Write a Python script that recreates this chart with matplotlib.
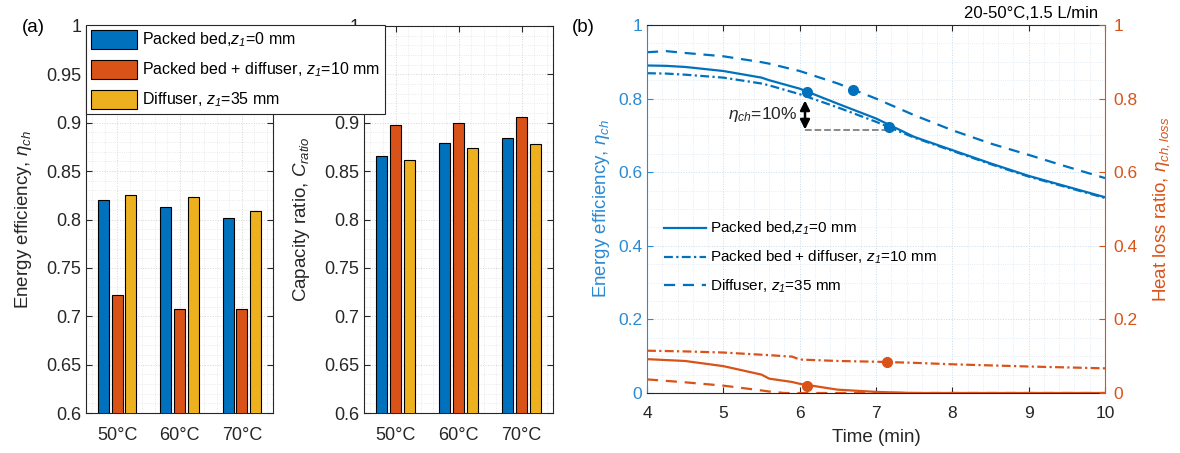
import matplotlib
matplotlib.use("Agg")
import matplotlib.pyplot as plt
from matplotlib.patches import Patch
from matplotlib.ticker import MultipleLocator

# --- dados ---
temps = ['50°C', '60°C', '70°C']
eff_packed = [0.820, 0.813, 0.802]
eff_combo = [0.722, 0.708, 0.707]
eff_diff = [0.825, 0.823, 0.809]
cap_packed = [0.866, 0.879, 0.884]
cap_combo = [0.898, 0.900, 0.906]
cap_diff = [0.861, 0.874, 0.878]

t = [4.0, 4.25, 4.5, 5.0, 5.5, 5.6, 6.0, 6.5, 7.0, 7.5, 8.0, 8.5, 9.0, 9.5, 10.0]
eta_packed = [0.890, 0.889, 0.886, 0.875, 0.857, 0.850, 0.827, 0.786, 0.746, 0.696, 0.660, 0.624, 0.590, 0.561, 0.532]
eta_combo = [0.869, 0.868, 0.865, 0.857, 0.841, 0.836, 0.812, 0.776, 0.737, 0.694, 0.658, 0.622, 0.588, 0.559, 0.530]
eta_diff = [0.926, 0.929, 0.924, 0.915, 0.899, 0.895, 0.875, 0.841, 0.800, 0.755, 0.714, 0.678, 0.647, 0.615, 0.584]

t_loss = [4.0, 4.5, 5.0, 5.5, 5.6, 5.8, 5.9, 6.0, 6.5, 7.0, 7.5, 8.0, 9.0, 10.0]
loss_packed = [0.092, 0.087, 0.073, 0.050, 0.039, 0.033, 0.030, 0.025, 0.009, 0.003, 0.0, 0.0, 0.0, 0.0]
loss_combo = [0.115, 0.113, 0.110, 0.104, 0.103, 0.100, 0.099, 0.091, 0.087, 0.085, 0.082, 0.078, 0.072, 0.067]
loss_diff = [0.037, 0.029, 0.020, 0.007, 0.004, 0.0, 0.0, 0.0, 0.0, 0.0, 0.0, 0.0, 0.0, 0.0]

mark_eta_t = [6.1, 6.7, 7.17]
mark_eta_v = [0.818, 0.824, 0.722]
mark_loss_t = [6.1, 7.15]
mark_loss_v = [0.018, 0.084]

arrow_t = 6.07
arrow_top, arrow_bot = 0.795, 0.716
ref_t_end = 7.17

labels = [r'Packed bed,$z_{1}$=0 mm',
          r'Packed bed + diffuser, $z_{1}$=10 mm',
          r'Diffuser, $z_{1}$=35 mm']

BLUE = '#0072BD'
ORANGE = '#D95319'
YELLOW = '#EDB120'
AXBLUE = '#2a8ad4'
GRAY = '#262626'

plt.rcParams['font.family'] = ['Liberation Sans', 'DejaVu Sans']
# tudo que está em modo matemático é itálico (inclusive o índice 1)
plt.rcParams['mathtext.fontset'] = 'custom'
plt.rcParams['mathtext.rm'] = 'Liberation Sans:italic'
plt.rcParams['mathtext.it'] = 'Liberation Sans:italic'
plt.rcParams['mathtext.bf'] = 'Liberation Sans:bold'

W, H = 1180, 453
fig = plt.figure(figsize=(W / 100, H / 100), dpi=100)
ax1 = fig.add_axes([86 / W, 40 / H, 187 / W, 387 / H])
ax2 = fig.add_axes([364 / W, 40 / H, 189 / W, 387 / H])
ax3 = fig.add_axes([647 / W, 60 / H, 458 / W, 368 / H])
ax4 = ax3.twinx()


def style_axis(ax, color=GRAY):
    for s in ax.spines.values():
        s.set_color(color)
        s.set_linewidth(0.8)
    ax.tick_params(which='both', direction='in', top=True, right=True, color=color, labelcolor=color)
    ax.tick_params(which='major', length=4)
    ax.tick_params(which='minor', length=0)
    ax.tick_params(axis='x', pad=10)


# --- (a) barras ---
x = [1, 2, 3]
w = 0.175
off = 0.218
for ax, vals, ylab in [(ax1, (eff_packed, eff_combo, eff_diff), r'Energy efficiency, $\eta_{ch}$'),
                       (ax2, (cap_packed, cap_combo, cap_diff), r'Capacity ratio, $C_{ratio}$')]:
    for k, (v, c) in enumerate(zip(vals, [BLUE, ORANGE, YELLOW])):
        ax.bar([xi + (k - 1) * off for xi in x], v, width=w, color=c,
               edgecolor='black', linewidth=0.8, zorder=3)
    ax.set_xlim(0.5, 3.5)
    ax.set_ylim(0.6, 1.0)
    ax.set_xticks(x)
    ax.set_xticklabels(temps)
    ax.set_yticks([0.6, 0.65, 0.7, 0.75, 0.8, 0.85, 0.9, 0.95, 1.0])
    ax.set_yticklabels(['0.6', '0.65', '0.7', '0.75', '0.8', '0.85', '0.9', '0.95', '1'])
    ax.yaxis.set_minor_locator(MultipleLocator(0.01))
    ax.xaxis.set_minor_locator(MultipleLocator(0.2))
    ax.grid(True, which='major', color='#d4d4d4', linestyle=':', linewidth=0.7, zorder=0)
    ax.grid(True, which='minor', color='#e4e4e4', linestyle=':', linewidth=0.6, zorder=0)
    ax.set_axisbelow(True)
    style_axis(ax)
    ax.tick_params(labelsize=13)
    ax.set_ylabel(ylab, fontsize=13.5, color=GRAY, labelpad=9)

handles = [Patch(facecolor=c, edgecolor='black', linewidth=0.8) for c in [BLUE, ORANGE, YELLOW]]
leg = fig.legend(handles, labels, loc='upper left', bbox_to_anchor=(86 / W, 428 / H),
                 fontsize=11.5, frameon=True, fancybox=False, framealpha=1,
                 edgecolor=GRAY, borderpad=0.3, borderaxespad=0, labelspacing=0.66,
                 handlelength=2.9, handleheight=1.45, handletextpad=0.3)
leg.get_frame().set_linewidth(0.8)

# --- (b) curvas ---
dashdot = (0, (4, 1.5, 1, 1.5))
dashed = (0, (5, 3.5))
ax3.plot(t, eta_packed, '-', color=BLUE, lw=1.6, label=labels[0])
ax3.plot(t, eta_combo, color=BLUE, lw=1.6, linestyle=dashdot, label=labels[1])
ax3.plot(t, eta_diff, color=BLUE, lw=1.6, linestyle=dashed, label=labels[2])
ax3.plot(mark_eta_t, mark_eta_v, 'o', color=BLUE, ms=7, zorder=4)

ax4.plot(t_loss, loss_packed, '-', color=ORANGE, lw=1.6)
ax4.plot(t_loss, loss_combo, color=ORANGE, lw=1.6, linestyle=dashdot)
ax4.plot(t_loss, loss_diff, color=ORANGE, lw=1.6, linestyle=dashed)
ax4.plot(mark_loss_t, mark_loss_v, 'o', color=ORANGE, ms=7, zorder=4)

ax3.plot([arrow_t, ref_t_end], [arrow_bot, arrow_bot], '--', color='#808080', lw=1.3)
ax3.annotate('', xy=(arrow_t, arrow_bot), xytext=(arrow_t, arrow_top),
             arrowprops=dict(arrowstyle='<|-|>', color='black', lw=1.8, mutation_scale=14,
                             shrinkA=0, shrinkB=0))
ax3.text(arrow_t - 0.1, (arrow_top + arrow_bot) / 2, r'$\eta_{ch}$=10%', ha='right', va='center',
         fontsize=12.5, color=GRAY)

for ax in (ax3, ax4):
    ax.set_xlim(4, 10)
    ax.set_ylim(0, 1)
    ax.set_yticks([0, 0.2, 0.4, 0.6, 0.8, 1.0])
    ax.set_yticklabels(['0', '0.2', '0.4', '0.6', '0.8', '1'])
    ax.yaxis.set_minor_locator(MultipleLocator(0.05))
ax3.set_xticks([4, 5, 6, 7, 8, 9, 10])
ax3.xaxis.set_minor_locator(MultipleLocator(0.2))
ax3.grid(True, which='major', color='#c8dbea', linestyle=':', linewidth=0.7)
ax3.grid(True, which='minor', color='#dbe7f1', linestyle=':', linewidth=0.6)

for s in ax3.spines.values():
    s.set_color(GRAY)
    s.set_linewidth(0.8)
ax3.spines['left'].set_color(AXBLUE)
ax3.spines['right'].set_visible(False)
ax3.tick_params(which='both', direction='in', top=True, length=4, labelsize=12.5, color=GRAY, labelcolor=GRAY)
ax3.tick_params(which='minor', length=0)
ax3.tick_params(axis='x', pad=9)
ax3.tick_params(axis='y', which='both', colors=AXBLUE, right=False)
ax4.spines['left'].set_visible(False)
ax4.spines['top'].set_visible(False)
ax4.spines['bottom'].set_visible(False)
ax4.spines['right'].set_color(ORANGE)
ax4.spines['right'].set_linewidth(0.8)
ax4.tick_params(axis='y', which='both', direction='in', colors=ORANGE, labelsize=12.5, length=4, pad=6)
ax4.tick_params(which='minor', length=0)

ax3.set_xlabel('Time (min)', fontsize=13.5, color=GRAY, labelpad=6)
ax3.set_ylabel(r'Energy efficiency, $\eta_{ch}$', fontsize=13.5, color=AXBLUE)
ax4.set_ylabel(r'Heat loss ratio, $\eta_{ch,loss}$', fontsize=13.5, color=ORANGE, labelpad=10)

ax3.legend(loc='upper left', bbox_to_anchor=(0.038, 0.47), frameon=False, fontsize=11,
           handlelength=2.75, handletextpad=0.25, labelspacing=0.75, borderpad=0, borderaxespad=0)

ax3.text(0.985, 1.012, '20-50°C,1.5 L/min', transform=ax3.transAxes, ha='right', va='bottom',
         fontsize=12, color='black')
fig.text(33 / W, 1 - 28 / H, '(a)', fontsize=13.5, ha='center', va='center')
fig.text(583 / W, 1 - 28 / H, '(b)', fontsize=13.5, ha='center', va='center')

fig.savefig('out.png', dpi=100)
